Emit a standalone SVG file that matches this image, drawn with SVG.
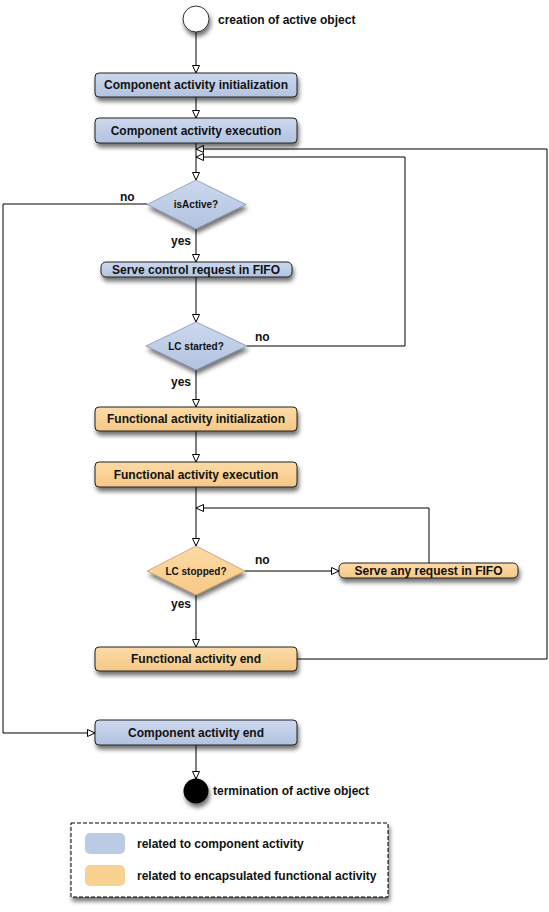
<svg xmlns="http://www.w3.org/2000/svg" width="549" height="912" viewBox="0 0 549 912">
  <defs>
    <linearGradient id="gBlue" x1="0" y1="0" x2="0" y2="1">
      <stop offset="0" stop-color="#ccd8ee"/>
      <stop offset="1" stop-color="#b2c3e0"/>
    </linearGradient>
    <linearGradient id="gOrange" x1="0" y1="0" x2="0" y2="1">
      <stop offset="0" stop-color="#fcdba6"/>
      <stop offset="1" stop-color="#f6c886"/>
    </linearGradient>
    <filter id="shadow" x="-20%" y="-30%" width="140%" height="190%">
      <feDropShadow dx="1.5" dy="4" stdDeviation="2" flood-color="#000" flood-opacity="0.55"/>
    </filter>
    <marker id="arrow" viewBox="0 0 9 8" refX="8" refY="4" markerWidth="9" markerHeight="8" markerUnits="userSpaceOnUse" orient="auto">
      <path d="M0.5,0.5 L8,4 L0.5,7.5 Z" fill="#fff" stroke="#000" stroke-width="1"/>
    </marker>
  </defs>
  <style>
    .lbl { font-family: "Liberation Sans", Arial, sans-serif; font-weight: bold; font-size: 12px; fill: #111; }
    .small { font-size: 10px; }
    .mid { text-anchor: middle; }
    .box { stroke: #222; stroke-width: 1; filter: url(#shadow); }
    .blue { fill: url(#gBlue); }
    .orange { fill: url(#gOrange); }
    .dia { stroke: #6a7a96; stroke-width: 0.6; filter: url(#shadow); }
    .dia.orange { stroke: #b08850; }
    .wire { fill: none; stroke: #000; stroke-width: 1; }
    .arr { marker-end: url(#arrow); }
  </style>

  <rect width="549" height="912" fill="#fff"/>

  <!-- connectors -->
  <g id="connectors">
    <path class="wire arr" d="M196,32 V73"/>
    <path class="wire arr" d="M196,97 V118"/>
    <path class="wire arr" d="M196,143 V180"/>
    <path class="wire arr" d="M297,659 H547 V149 H196"/>
    <path class="wire arr" d="M247,346 H405 V157 H196"/>
    <path class="wire arr" d="M147,204 H3 V733 H95"/>
    <path class="wire arr" d="M196,229 V262"/>
    <path class="wire arr" d="M196,277 V322"/>
    <path class="wire arr" d="M196,370 V407"/>
    <path class="wire arr" d="M196,431 V462"/>
    <path class="wire arr" d="M196,487 V546"/>
    <path class="wire arr" d="M429,563 V508 H196"/>
    <path class="wire arr" d="M245,571 H339"/>
    <path class="wire arr" d="M196,595 V647"/>
    <path class="wire arr" d="M196,745 V779"/>
    <text class="lbl" x="120" y="201">no</text>
    <text class="lbl" x="171" y="245">yes</text>
    <text class="lbl" x="255" y="341">no</text>
    <text class="lbl" x="171" y="386">yes</text>
    <text class="lbl" x="255" y="564">no</text>
    <text class="lbl" x="171" y="608">yes</text>
  </g>

  <!-- start -->
  <g id="start">
    <circle cx="196" cy="19" r="13" fill="#fff" stroke="#333" stroke-width="1" filter="url(#shadow)"/>
    <text class="lbl" x="218" y="24">creation of active object</text>
  </g>

  <g id="compInit">
    <rect class="box blue" x="95" y="73" width="202" height="24" rx="4"/>
    <text class="lbl mid" x="196" y="89">Component activity initialization</text>
  </g>

  <g id="compExec">
    <rect class="box blue" x="95" y="118" width="202" height="25" rx="4"/>
    <text class="lbl mid" x="196" y="135">Component activity execution</text>
  </g>

  <g id="isActive">
    <path class="dia blue" d="M196,180 L246,204.5 L196,229 L147,204.5 Z"/>
    <text class="lbl small mid" x="196" y="208">isActive?</text>
  </g>

  <g id="serveControl">
    <rect class="box blue" x="101" y="262" width="191" height="15" rx="5"/>
    <text class="lbl mid" x="196" y="274">Serve control request in FIFO</text>
  </g>

  <g id="lcStarted">
    <path class="dia blue" d="M196,322 L247,346 L196,370 L146,346 Z"/>
    <text class="lbl small mid" x="196" y="350">LC started?</text>
  </g>

  <g id="funcInit">
    <rect class="box orange" x="95" y="407" width="202" height="24" rx="4"/>
    <text class="lbl mid" x="196" y="423">Functional activity initialization</text>
  </g>

  <g id="funcExec">
    <rect class="box orange" x="95" y="462" width="202" height="25" rx="4"/>
    <text class="lbl mid" x="196" y="479">Functional activity execution</text>
  </g>

  <g id="lcStopped">
    <path class="dia orange" d="M196,546 L245,571 L196,595 L147,571 Z"/>
    <text class="lbl small mid" x="196" y="575">LC stopped?</text>
  </g>

  <g id="serveAny">
    <rect class="box orange" x="339" y="563" width="179" height="15" rx="5"/>
    <text class="lbl mid" x="428.5" y="575">Serve any request in FIFO</text>
  </g>

  <g id="funcEnd">
    <rect class="box orange" x="95" y="647" width="202" height="24" rx="4"/>
    <text class="lbl mid" x="196" y="663">Functional activity end</text>
  </g>

  <g id="compEnd">
    <rect class="box blue" x="95" y="720" width="202" height="25" rx="4"/>
    <text class="lbl mid" x="196" y="737">Component activity end</text>
  </g>

  <g id="end">
    <circle cx="196" cy="791" r="12.5" fill="#000" filter="url(#shadow)"/>
    <text class="lbl" x="213" y="795">termination of active object</text>
  </g>

  <!-- legend -->
  <g id="legend">
    <rect x="71" y="823" width="317" height="74" fill="#fff" stroke="#000" stroke-width="1" stroke-dasharray="4,2" filter="url(#shadow)"/>
    <rect x="85" y="833" width="40" height="21" rx="5" fill="#bccbe5"/>
    <rect x="85" y="865" width="40" height="21" rx="5" fill="#f9d291"/>
    <text class="lbl" x="137" y="848">related to component activity</text>
    <text class="lbl" x="137" y="880">related to encapsulated functional activity</text>
  </g>
</svg>
